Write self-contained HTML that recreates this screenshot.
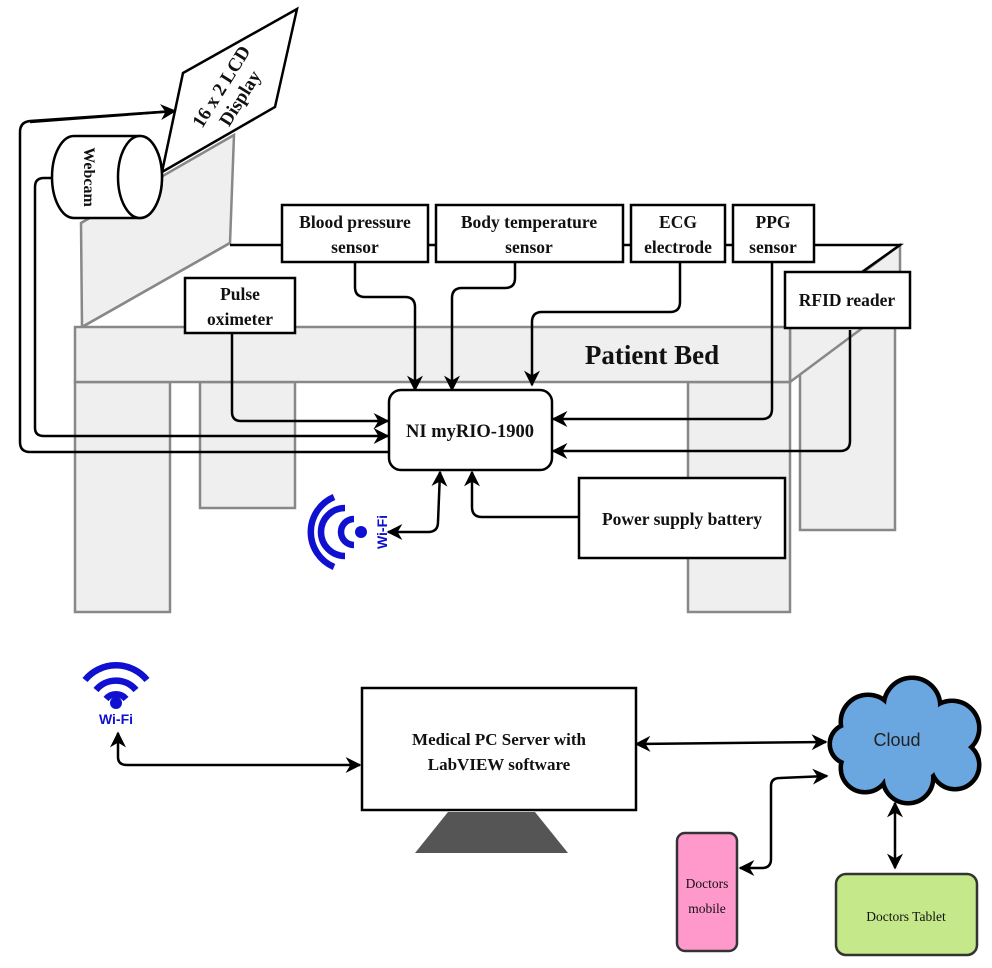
<!DOCTYPE html>
<html><head><meta charset="utf-8"><style>
html,body{margin:0;padding:0;background:#fff;}
svg{display:block;}
text{font-family:"Liberation Serif",serif;font-weight:bold;fill:#111;}
</style></head><body>
<svg width="992" height="968" viewBox="0 0 992 968" xmlns="http://www.w3.org/2000/svg">
<defs>
<marker id="b" viewBox="0 0 10 10" refX="9" refY="5" markerWidth="16" markerHeight="16" orient="auto-start-reverse" markerUnits="userSpaceOnUse">
<path d="M0,0 L10,5 L0,10 L3,5 z" fill="#000"/></marker>
</defs>
<g stroke="#888" stroke-width="2.5" fill="#efefef">
<rect x="800" y="300" width="95" height="230"/>
<polygon points="790,327 900,245 900,300 790,382"/>
<polygon points="81,223 234,135 230,243 82,327"/>
<rect x="200" y="382" width="95" height="126"/>
<rect x="75" y="382" width="95" height="230"/>
<rect x="688" y="382" width="102" height="230"/>
<rect x="75" y="327" width="715" height="55"/>
</g>
<line x1="82" y1="327" x2="230" y2="243" stroke="#888" stroke-width="2.5"/>
<g stroke="#000" stroke-width="2.5" fill="none">
<line x1="230" y1="245" x2="282" y2="245"/>
<line x1="428" y1="245" x2="436" y2="245"/>
<line x1="623" y1="245" x2="631" y2="245"/>
<line x1="725" y1="245" x2="733" y2="245"/>
<polyline points="814,245 900,245 862,272"/>
</g>
<text x="652" y="364" font-size="27" text-anchor="middle">Patient Bed</text>

<polygon points="183,73 297,9 275,107 162,172" fill="#fff" stroke="#000" stroke-width="2.5"/>
<text transform="translate(230,92) rotate(-58)" font-size="19" text-anchor="middle"><tspan x="0" y="-4">16 x 2 LCD</tspan><tspan x="0" y="18">Display</tspan></text>
<path d="M74,136 L140,136 A22,41 0 0 1 140,218 L74,218 A22,41 0 0 1 74,136 Z" fill="#fff" stroke="#000" stroke-width="2.5"/>
<ellipse cx="140" cy="177" rx="22" ry="41" fill="#fff" stroke="#000" stroke-width="2.5"/>
<text transform="translate(84,177) rotate(90)" font-size="16" text-anchor="middle">Webcam</text>

<g stroke="#000" stroke-width="2.5" fill="none">
<path d="M175,111 L30,121 Q20,122 20,132 L20,442 Q20,452 30,452 L389,452"/>
<path d="M30,122 L175,111" marker-end="url(#b)"/>
<path d="M52,178 L44,178 Q35,178 35,187 L35,428 Q35,436 44,436 L388,436" marker-end="url(#b)"/>
<path d="M232,333 L232,412 Q232,421 241,421 L388,421" marker-end="url(#b)"/>
<path d="M355,262 L355,287 Q355,297 365,297 L405,297 Q415,297 415,307 L415,390" marker-end="url(#b)"/>
<path d="M515,262 L515,278 Q515,288 505,288 L462,288 Q452,288 452,298 L452,390" marker-end="url(#b)"/>
<path d="M680,262 L680,302 Q680,312 670,312 L542,312 Q532,312 532,322 L532,385" marker-end="url(#b)"/>
<path d="M772,262 L772,409 Q772,419 762,419 L553,419" marker-end="url(#b)"/>
<path d="M850,330 L850,441 Q850,451 840,451 L553,451" marker-end="url(#b)"/>
<path d="M579,517 L482,517 Q472,517 472,507 L472,472" marker-end="url(#b)"/>
<path d="M388,532 L428,532 Q438,532 438,522 L440,472" marker-start="url(#b)" marker-end="url(#b)"/>
</g>

<g fill="#fff" stroke="#000" stroke-width="2.5">
<rect x="389" y="390" width="163" height="80" rx="12"/>
<rect x="282" y="205" width="146" height="57"/>
<rect x="436" y="205" width="187" height="57"/>
<rect x="631" y="205" width="94" height="57"/>
<rect x="733" y="205" width="81" height="57"/>
<rect x="785" y="272" width="125" height="56"/>
<rect x="185" y="278" width="110" height="55"/>
<rect x="579" y="478" width="206" height="80"/>
</g>
<g font-size="17.5" text-anchor="middle">
<text x="470" y="437" font-size="18.5">NI myRIO-1900</text>
<text x="355" y="228">Blood pressure</text><text x="355" y="253">sensor</text>
<text x="529" y="228">Body temperature</text><text x="529" y="253">sensor</text>
<text x="678" y="228">ECG</text><text x="678" y="253">electrode</text>
<text x="773" y="228">PPG</text><text x="773" y="253">sensor</text>
<text x="847" y="306">RFID reader</text>
<text x="240" y="300">Pulse</text><text x="240" y="325">oximeter</text>
<text x="682" y="525">Power supply battery</text>
</g>

<g fill="none" stroke="#1010d0" stroke-width="6.5">
<path d="M345,508 A24,24 0 0 0 345,556"/>
<path d="M334,497 A38,38 0 0 0 334,567"/>
<path d="M354,519 A13,13 0 0 0 354,545"/>
</g>
<circle cx="361" cy="532" r="6" fill="#1010d0"/>
<text transform="translate(382,532) rotate(-90)" font-size="14" style="font-family:'Liberation Sans',sans-serif;fill:#1010d0" text-anchor="middle" dy="5">Wi-Fi</text>

<g fill="none" stroke="#1010d0" stroke-width="6.5">
<path d="M85,680 A40,40 0 0 1 147,680"/>
<path d="M96,690 A26,26 0 0 1 136,690"/>
<path d="M106,699 A13,13 0 0 1 126,699"/>
</g>
<circle cx="116" cy="703" r="6" fill="#1010d0"/>
<text x="116" y="724" font-size="14" text-anchor="middle" style="font-family:'Liberation Sans',sans-serif;fill:#1010d0">Wi-Fi</text>

<g stroke="#000" stroke-width="2.5" fill="none">
<path d="M118,733 L118,757 Q118,765 127,765 L360,765" marker-start="url(#b)" marker-end="url(#b)"/>
<path d="M636,744 L826,742" marker-start="url(#b)" marker-end="url(#b)"/>
<path d="M740,868 L762,868 Q771,868 771,859 L771,786 Q771,778 780,778 L827,776" marker-start="url(#b)" marker-end="url(#b)"/>
<path d="M895,803 L895,868" marker-start="url(#b)" marker-end="url(#b)"/>
</g>

<rect x="362" y="688" width="274" height="122" fill="#fff" stroke="#000" stroke-width="2.5"/>
<polygon points="448,812 535,812 568,853 415,853" fill="#555"/>
<text x="499" y="745" font-size="17" text-anchor="middle">Medical PC Server with</text>
<text x="499" y="770" font-size="17" text-anchor="middle">LabVIEW software</text>

<g fill="#6aa6e0" stroke="#000" stroke-width="5">
<circle cx="868" cy="722" r="27"/><circle cx="912" cy="706" r="28"/><circle cx="952" cy="728" r="27"/>
<circle cx="955" cy="765" r="24"/><circle cx="908" cy="778" r="25"/><circle cx="865" cy="768" r="24"/><circle cx="850" cy="744" r="20"/>
</g>
<g fill="#6aa6e0">
<circle cx="868" cy="722" r="25"/><circle cx="912" cy="706" r="26"/><circle cx="952" cy="728" r="25"/>
<circle cx="955" cy="765" r="22"/><circle cx="908" cy="778" r="23"/><circle cx="865" cy="768" r="22"/><circle cx="850" cy="744" r="18"/>
<circle cx="905" cy="742" r="42"/>
</g>
<text x="897" y="746" font-size="18" text-anchor="middle" style="font-family:'Liberation Sans',sans-serif;font-weight:normal;fill:#222">Cloud</text>

<rect x="677" y="833" width="60" height="118" rx="8" fill="#ff99cc" stroke="#333" stroke-width="2.5"/>
<text x="707" y="888" font-size="13.5" text-anchor="middle" style="font-weight:normal">Doctors</text>
<text x="707" y="913" font-size="13.5" text-anchor="middle" style="font-weight:normal">mobile</text>
<rect x="836" y="874" width="141" height="81" rx="10" fill="#c5e88a" stroke="#333" stroke-width="2.5"/>
<text x="906" y="921" font-size="13.5" text-anchor="middle" style="font-weight:normal">Doctors Tablet</text>
</svg>
</body></html>
